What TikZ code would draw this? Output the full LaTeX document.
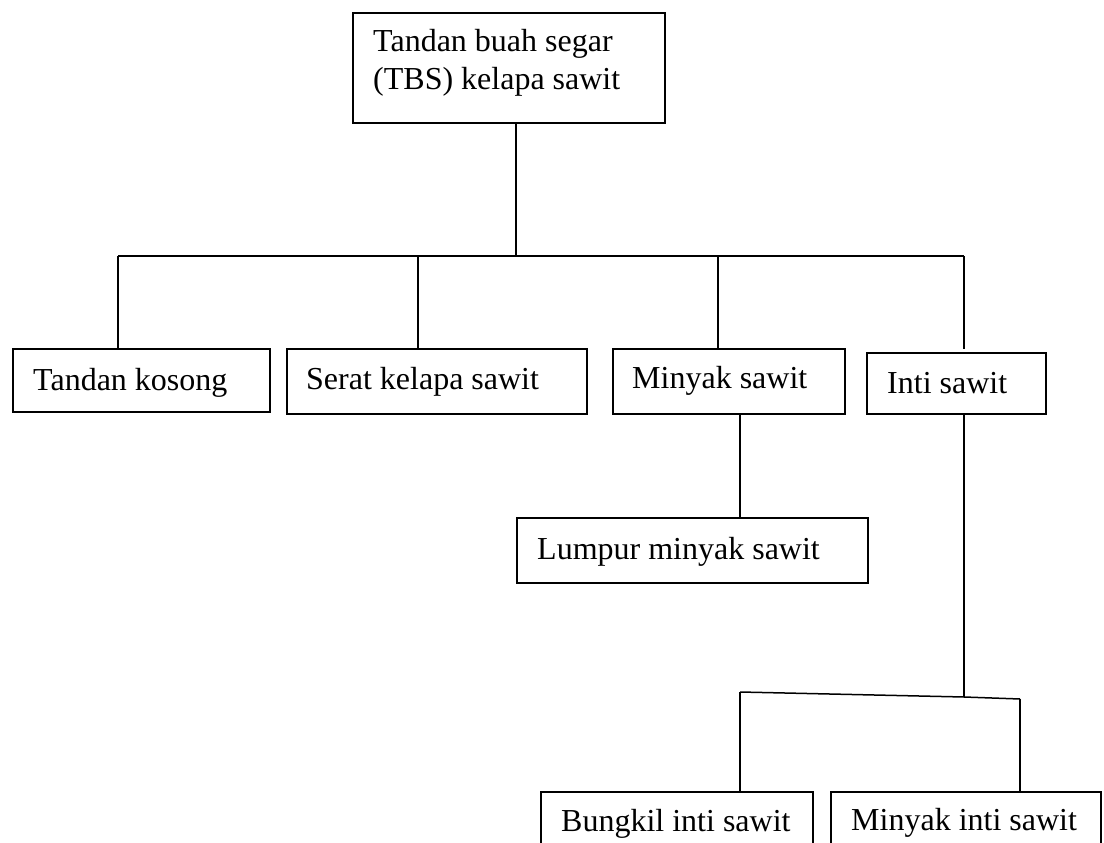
\documentclass[tikz,border=0pt]{standalone}
\usepackage{fontspec}
\setmainfont{Liberation Serif}
\begin{document}
\begin{tikzpicture}[x=1pt,y=-1pt,
  box/.style={draw, line width=1.6pt, rectangle, inner sep=0pt, anchor=north west},
  txt/.style={inner sep=0pt, anchor=base west, font=\fontsize{32}{37}\selectfont},
  conn/.style={line width=1.5pt}]
\useasboundingbox (0,0) rectangle (1104,843);
\clip (0,0) rectangle (1104,843);
% boxes
\node[box, minimum width=312pt, minimum height=110pt] (top) at (352,12) {};
\node[box, minimum width=257pt, minimum height=63pt] (tk) at (12,348) {};
\node[box, minimum width=300pt, minimum height=65pt] (serat) at (286,348) {};
\node[box, minimum width=232pt, minimum height=65pt] (minyak) at (612,348) {};
\node[box, minimum width=179pt, minimum height=61pt] (inti) at (866,352) {};
\node[box, minimum width=351pt, minimum height=65pt] (lumpur) at (516,517) {};
\node[box, minimum width=272pt, minimum height=70pt] (bungkil) at (540,791) {};
\node[box, minimum width=270pt, minimum height=70pt] (minti) at (830,791) {};
% texts
\node[txt] (t1) at (373,52) {Tandan buah segar};
\node[txt] (t2) at (373,89) {(TBS) kelapa sawit};
\node[txt] (ttk) at (33,390) {Tandan kosong};
\node[txt] (tserat) at (306,389) {Serat kelapa sawit};
\node[txt] (tminyak) at (632,388) {Minyak sawit};
\node[txt] (tinti) at (887,393) {Inti sawit};
\node[txt] (tlumpur) at (537,559) {Lumpur minyak sawit};
\node[txt] (tbungkil) at (561,831) {Bungkil inti sawit};
\node[txt] (tminti) at (851,830) {Minyak inti sawit};
% junctions
\coordinate (j0) at (516,256);
\coordinate (jl) at (118,256);
\coordinate (js) at (418,256);
\coordinate (jm) at (718,256);
\coordinate (jr) at (964,256);
\coordinate (ie) at (964,349);
\coordinate (lm) at (740,413);
\coordinate (ki) at (964,697);
\coordinate (kl) at (740,692);
\coordinate (kr) at (1020,699);
% connectors
\draw[conn] (top.south -| j0) -- (j0);
\draw[conn] (jl) -- (jr);
\draw[conn] (jl) -- (tk.north -| jl);
\draw[conn] (js) -- (serat.north -| js);
\draw[conn] (jm) -- (minyak.north -| jm);
\draw[conn] (jr) -- (ie);
\draw[conn] (lm) -- (lumpur.north -| lm);
\draw[conn] (inti.south -| ki) -- (ki);
\draw[conn] (kl) -- (ki) -- (kr);
\draw[conn] (kl) -- (bungkil.north -| kl);
\draw[conn] (kr) -- (minti.north -| kr);
\end{tikzpicture}
\end{document}
